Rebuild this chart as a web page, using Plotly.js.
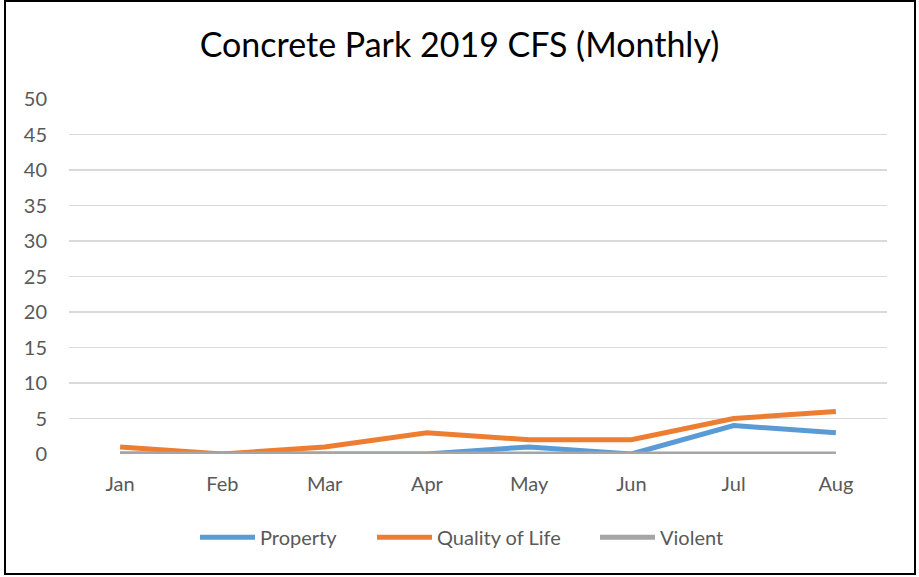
<!DOCTYPE html>
<html>
<head>
<meta charset="utf-8">
<script src="https://cdn.plot.ly/plotly-3.0.1.min.js"></script>
<style>
  html, body { margin: 0; padding: 0; background: #fff; }
  #wrap { position: relative; width: 919px; height: 577px; }
  #chart { position: absolute; left: 0; top: 0; width: 919px; height: 577px; }
  #frame { position: absolute; left: 4px; top: 0px; width: 908px; height: 571px; border: 2px solid #000; pointer-events: none; }
</style>
</head>
<body>
<div id="wrap">
  <div id="chart"></div>
  <div id="frame"></div>
</div>
<script>
const months = ["Jan", "Feb", "Mar", "Apr", "May", "Jun", "Jul", "Aug"];
const property = [0, 0, 0, 0, 1, 0, 4, 3];
const qualityOfLife = [1, 0, 1, 3, 2, 2, 5, 6];
const violent = [0, 0, 0, 0, 0, 0, 0, 0];
const yTicks = [0, 5, 10, 15, 20, 25, 30, 35, 40, 45, 50];

const font = "Lato, 'Open Sans', 'DejaVu Sans', sans-serif";

const traces = [
  { x: months, y: property, name: "Property", type: "scatter", mode: "lines", legend: "legend",
    line: { color: "#5B9BD5", width: 5 } },
  { x: months, y: qualityOfLife, name: "Quality of Life", type: "scatter", mode: "lines", legend: "legend2",
    line: { color: "#ED7D31", width: 5 } },
  { x: months, y: violent, name: "Violent", type: "scatter", mode: "lines", legend: "legend3",
    line: { color: "#A5A5A5", width: 5 } }
];

function legendAt(px) {
  return { orientation: "h", x: px / 919, xref: "container", xanchor: "left", y: 0.069, yref: "container", yanchor: "middle",
           font: { size: 20, color: "#595959" }, itemwidth: 55, bgcolor: "rgba(0,0,0,0)" };
}

const layout = {
  width: 919, height: 577,
  margin: { l: 69, r: 32, t: 99, b: 123 },
  paper_bgcolor: "#fff", plot_bgcolor: "#fff",
  font: { family: font, color: "#595959", size: 20 },
  title: { text: "Concrete Park 2019 CFS (Monthly)", font: { family: font, size: 34, color: "#000" },
           xref: "container", x: 0.5, xanchor: "center", yref: "container", y: 0.922, yanchor: "middle" },
  xaxis: { type: "category", range: [-0.5, 7.5], showgrid: false, zeroline: false,
           showline: false, ticks: "", ticklabelstandoff: 16, tickfont: { size: 20, color: "#595959" } },
  yaxis: { range: [0, 50], tickvals: yTicks, showgrid: true, gridcolor: "#D9D9D9", gridwidth: 1.5,
           zeroline: false, showline: false, ticks: "", ticklabelstandoff: 21,
           tickfont: { size: 20, color: "#595959" } },
  showlegend: true,
  legend: legendAt(195),
  legend2: legendAt(372),
  legend3: legendAt(595)
};

Plotly.newPlot("chart", traces, layout, { displayModeBar: false, staticPlot: true });
</script>
</body>
</html>
